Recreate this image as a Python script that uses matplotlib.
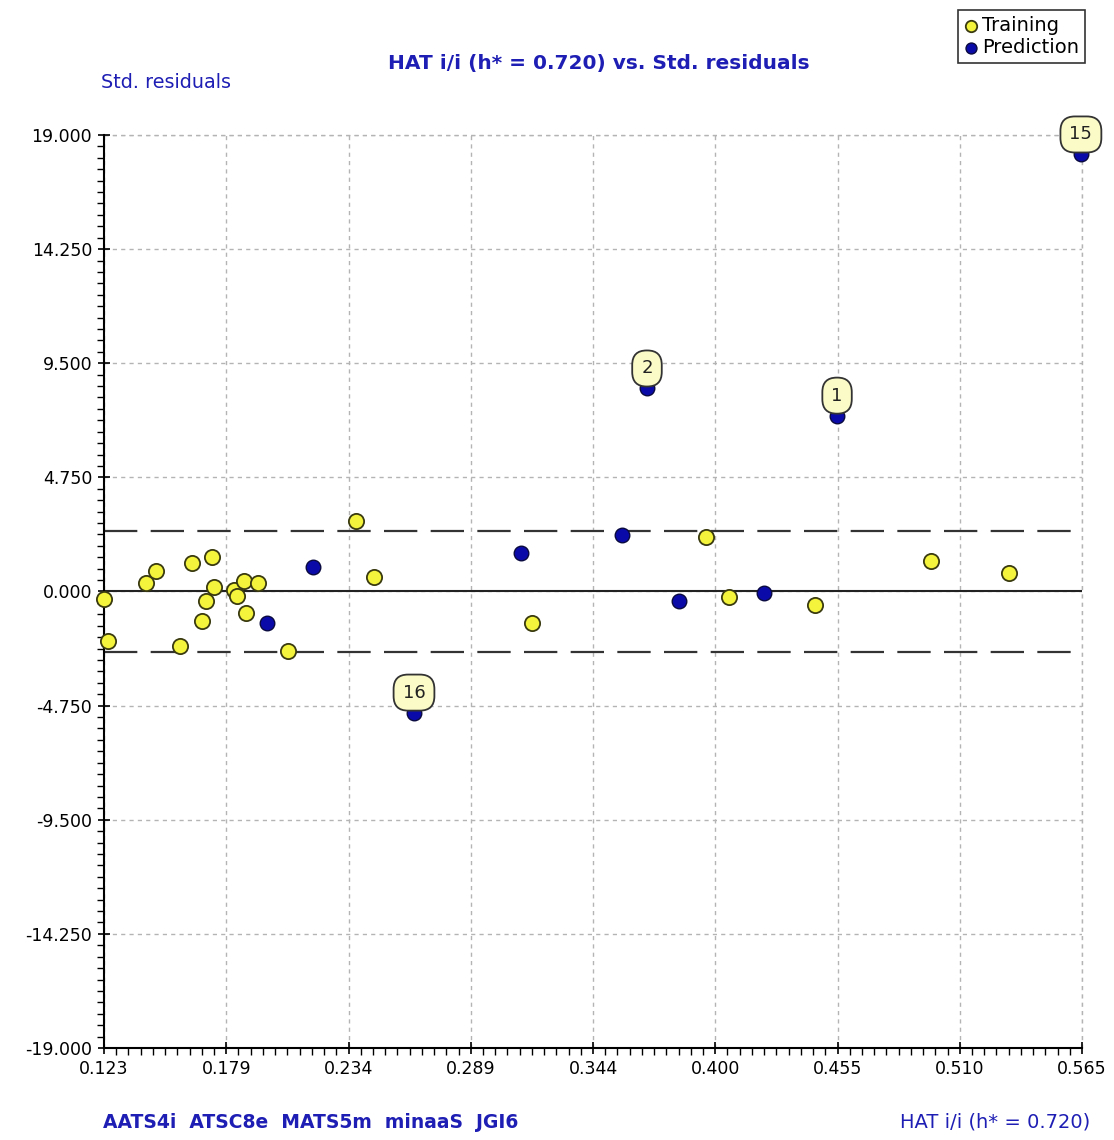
import numpy as np
import matplotlib
matplotlib.use("Agg")
import matplotlib.pyplot as plt
from matplotlib.ticker import AutoMinorLocator

# Leverage (HAT i/i) and standardized residuals
train_hat = [0.1230, 0.1249, 0.1420, 0.1466, 0.1573, 0.1629, 0.1674, 0.1690,
             0.1720, 0.1727, 0.1818, 0.1830, 0.1861, 0.1872, 0.1927, 0.2063,
             0.2370, 0.2450, 0.3164, 0.3950, 0.4053, 0.4443, 0.4968, 0.5320]
train_res = [-0.32, -2.07, 0.35, 0.85, -2.25, 1.18, -1.23, -0.39,
             1.43, 0.17, 0.07, -0.17, 0.43, -0.90, 0.35, -2.48,
             2.93, 0.60, -1.32, 2.26, -0.24, -0.57, 1.29, 0.75]

pred_hat = [0.1965, 0.2173, 0.3115, 0.3570, 0.3830, 0.4211,
            0.5645, 0.3684, 0.4543, 0.2631]
pred_res = [-1.33, 1.01, 1.59, 2.36, -0.39, -0.07,
            18.19, 8.45, 7.32, -5.04]
pred_ids = ["", "", "", "", "", "", "15", "2", "1", "16"]

x_min, x_max = 0.123, 0.565
y_min, y_max = -19.0, 19.0
x_tick_labels = ["0.123", "0.179", "0.234", "0.289", "0.344",
                 "0.400", "0.455", "0.510", "0.565"]
y_ticks = [19.0, 14.25, 9.5, 4.75, 0.0, -4.75, -9.5, -14.25, -19.0]
h_star = 0.720
res_limit = 2.5

blue_txt = "#1e1eb4"
yellow = "#f4f43c"
blue = "#0a0aa8"

fig = plt.figure(figsize=(11.14, 11.40), dpi=100)
ax = fig.add_axes([104 / 1114, 1 - 1048 / 1140, 978 / 1114, 913 / 1140])

ax.set_xlim(x_min, x_max)
ax.set_ylim(y_min, y_max)

x_ticks = np.linspace(x_min, x_max, len(x_tick_labels))
ax.set_xticks(x_ticks)
ax.set_xticklabels(x_tick_labels)
ax.set_yticks(y_ticks)
ax.set_yticklabels([f"{v:.3f}" for v in y_ticks])
ax.xaxis.set_minor_locator(AutoMinorLocator(10))
ax.yaxis.set_minor_locator(AutoMinorLocator(10))
ax.tick_params(axis="both", which="major", direction="inout", length=9,
               width=1.2, labelsize=12.5, pad=4)
ax.tick_params(axis="both", which="minor", direction="out", length=5,
               width=1.0)

for side in ("top", "right"):
    ax.spines[side].set_visible(False)
for side in ("left", "bottom"):
    ax.spines[side].set_linewidth(1.5)

grid_style = dict(color="#b4b4b4", linestyle=(0, (3, 3)), linewidth=1.0)
ax.grid(True, which="major", **grid_style)
# Border grid lines at the upper and right limits
ax.axhline(y_max, clip_on=False, zorder=1, **grid_style)
ax.axvline(x_max, clip_on=False, zorder=1, **grid_style)

# Reference lines: zero residual and +/- limit
ax.axhline(0.0, color="#222222", linewidth=1.5, zorder=2)
for lim in (res_limit, -res_limit):
    ax.axhline(lim, color="#333333", linewidth=1.6, dashes=(15, 6), zorder=2)

ax.scatter(train_hat, train_res, s=120, c=yellow, edgecolors="#3a3a10",
           linewidths=1.3, zorder=4, clip_on=False, label="Training")
ax.scatter(pred_hat, pred_res, s=110, c=blue, edgecolors="#0a0a40",
           linewidths=1.0, zorder=4, clip_on=False, label="Prediction")

for hx, ry, lab in zip(pred_hat, pred_res, pred_ids):
    if lab:
        ax.annotate(lab, (hx, ry), xytext=(0, 20), textcoords="offset pixels",
                    ha="center", va="center", fontsize=13, color="#222222",
                    bbox=dict(boxstyle="round,pad=0.5,rounding_size=0.8",
                              fc="#fbfbc8", ec="#333333", lw=1.3),
                    zorder=6, annotation_clip=False)

leg = fig.legend(loc="upper right", bbox_to_anchor=(1085 / 1114, 1 - 10 / 1140),
                 fontsize=14, frameon=True, fancybox=False, edgecolor="black",
                 handletextpad=0.15, borderpad=0.3, labelspacing=0.15,
                 handlelength=0.8, borderaxespad=0.0, markerscale=0.75)
leg.get_frame().set_linewidth(1.2)

fig.text(599 / 1114, 1 - 63 / 1140, f"HAT i/i (h* = {h_star:.3f}) vs. Std. residuals",
         ha="center", va="center", fontsize=14.5, fontweight="bold", color=blue_txt)
fig.text(101 / 1114, 1 - 83 / 1140, "Std. residuals", ha="left", va="center",
         fontsize=13.8, color=blue_txt)
fig.text(103 / 1114, 1 - 1122 / 1140, "AATS4i  ATSC8e  MATS5m  minaaS  JGI6",
         ha="left", va="center", fontsize=13.5, fontweight="bold", color=blue_txt)
fig.text(1090 / 1114, 1 - 1122 / 1140, f"HAT i/i (h* = {h_star:.3f})",
         ha="right", va="center", fontsize=14, color=blue_txt)

fig.savefig("out.png", dpi=100)
